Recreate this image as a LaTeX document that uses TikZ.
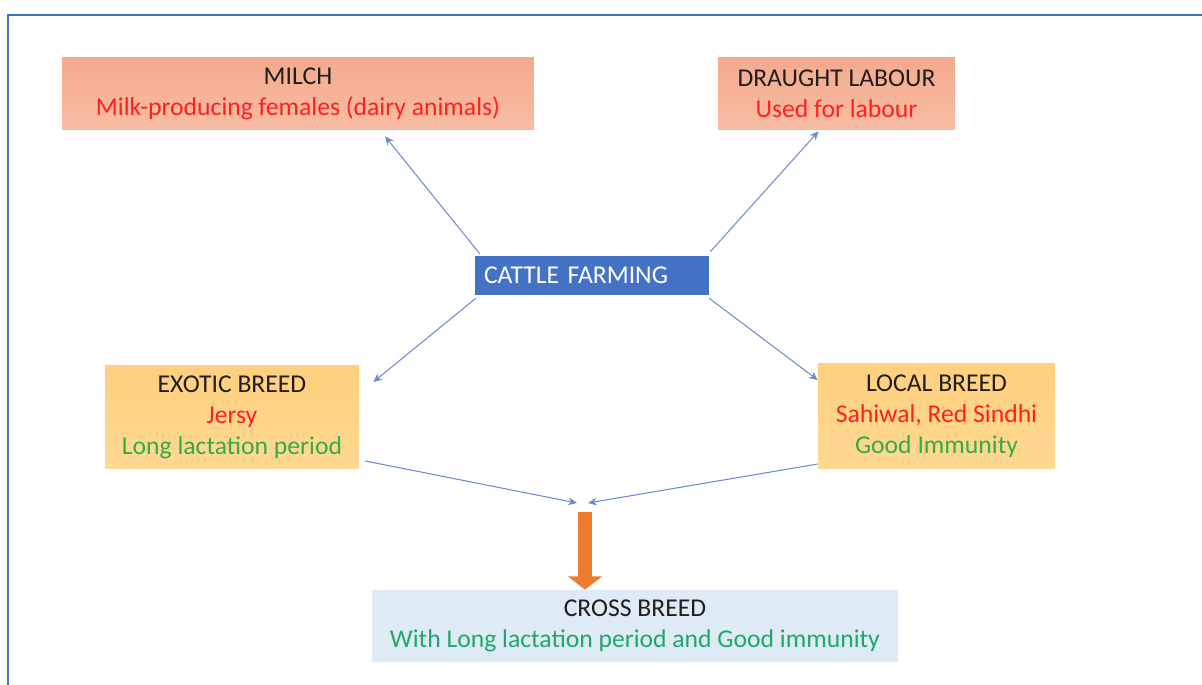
\documentclass[tikz,border=0pt]{standalone}
\usepackage{fontspec}
\setmainfont{Carlito}
\usetikzlibrary{arrows.meta,calc}
\definecolor{frameblue}{RGB}{68,114,196}
\definecolor{lineblue}{RGB}{110,140,205}
\definecolor{cattleblue}{RGB}{68,114,196}
\definecolor{salmonA}{RGB}{244,170,142}
\definecolor{salmonB}{RGB}{248,188,163}
\definecolor{amberA}{RGB}{255,208,125}
\definecolor{amberB}{RGB}{255,216,146}
\definecolor{crossfill}{RGB}{222,235,247}
\definecolor{txtred}{RGB}{255,32,32}
\definecolor{txtgreen}{RGB}{52,172,72}
\definecolor{crossgreen}{RGB}{30,168,105}
\definecolor{titlec}{RGB}{34,30,28}
\definecolor{orangec}{RGB}{237,125,49}

\begin{document}
\begin{tikzpicture}[x=0.02cm,y=-0.02cm,>=Stealth,font=\fontsize{14.6}{17.6}\selectfont]
\tikzstyle{b}=[inner sep=0pt,align=center,text=titlec]
\tikzstyle{ln}=[-{Stealth[length=5pt,width=4.5pt]},draw=lineblue,line width=0.6pt]
\useasboundingbox (0,0) rectangle (1202,685);
\draw[frameblue,line width=1.4pt] (8,685) -- (8,15) -- (1202,15);
\node[b,top color=salmonA,bottom color=salmonB,minimum width=9.44cm,minimum height=1.46cm] (mi) at (298,93.5) {MILCH\\\textcolor{txtred}{Milk-producing females (dairy animals)}};
\node[b,top color=salmonA,bottom color=salmonB,minimum width=4.74cm,minimum height=1.46cm] (dr) at (836.5,93.5) {DRAUGHT LABOUR\\\textcolor{txtred}{Used for labour}};
\node[fill=cattleblue,text=white,minimum height=0.78cm,text width=4.32cm,inner xsep=0.18cm,inner ysep=0pt,align=left] (cf) at (592,275.5) {CATTLE FARMING};
\node[b,top color=amberA,bottom color=amberB,minimum width=5.08cm,minimum height=2.08cm] (ex) at (232,417) {EXOTIC BREED\\\textcolor{txtred}{Jersy}\\\textcolor{txtgreen}{Long lactation period}};
\node[b,top color=amberA,bottom color=amberB,minimum width=4.74cm,minimum height=2.12cm] (lo) at (936.5,416) {LOCAL BREED\\\textcolor{txtred}{Sahiwal, Red Sindhi}\\\textcolor{txtgreen}{Good Immunity}};
\node[b,fill=crossfill,minimum width=10.52cm,minimum height=1.44cm] (cr) at (635,626) {CROSS BREED\\\textcolor{crossgreen}{With Long lactation period and Good immunity}};
\coordinate (jl) at (577,503);
\coordinate (jr) at (588,503);
\coordinate (fk) at (585,512);
% links out of cattle farming
\draw[ln] ($(cf.north west)+(5,-2)$) -- ($(mi.south)+(87,6)$);
\draw[ln] ($(cf.north east)+(1,-4)$) -- ($(dr.south)+(-18,1)$);
\draw[ln] ($(cf.south west)+(1,3)$) -- ($(ex.east)+(14,-35)$);
\draw[ln] ($(cf.south east)+(0,3)$) -- ($(lo.west)+(0,-36)$);
% both breeds meet
\draw[ln] ($(ex.east)+(6,44)$) -- (jl);
\draw[ln] ($(lo.west)+(0,48)$) -- (jr);
\draw[orangec,line width=8pt,-{Triangle[length=7.5pt,width=19pt]}] (fk) -- ($(cr.north)+(-50,0)$);
\end{tikzpicture}
\end{document}
